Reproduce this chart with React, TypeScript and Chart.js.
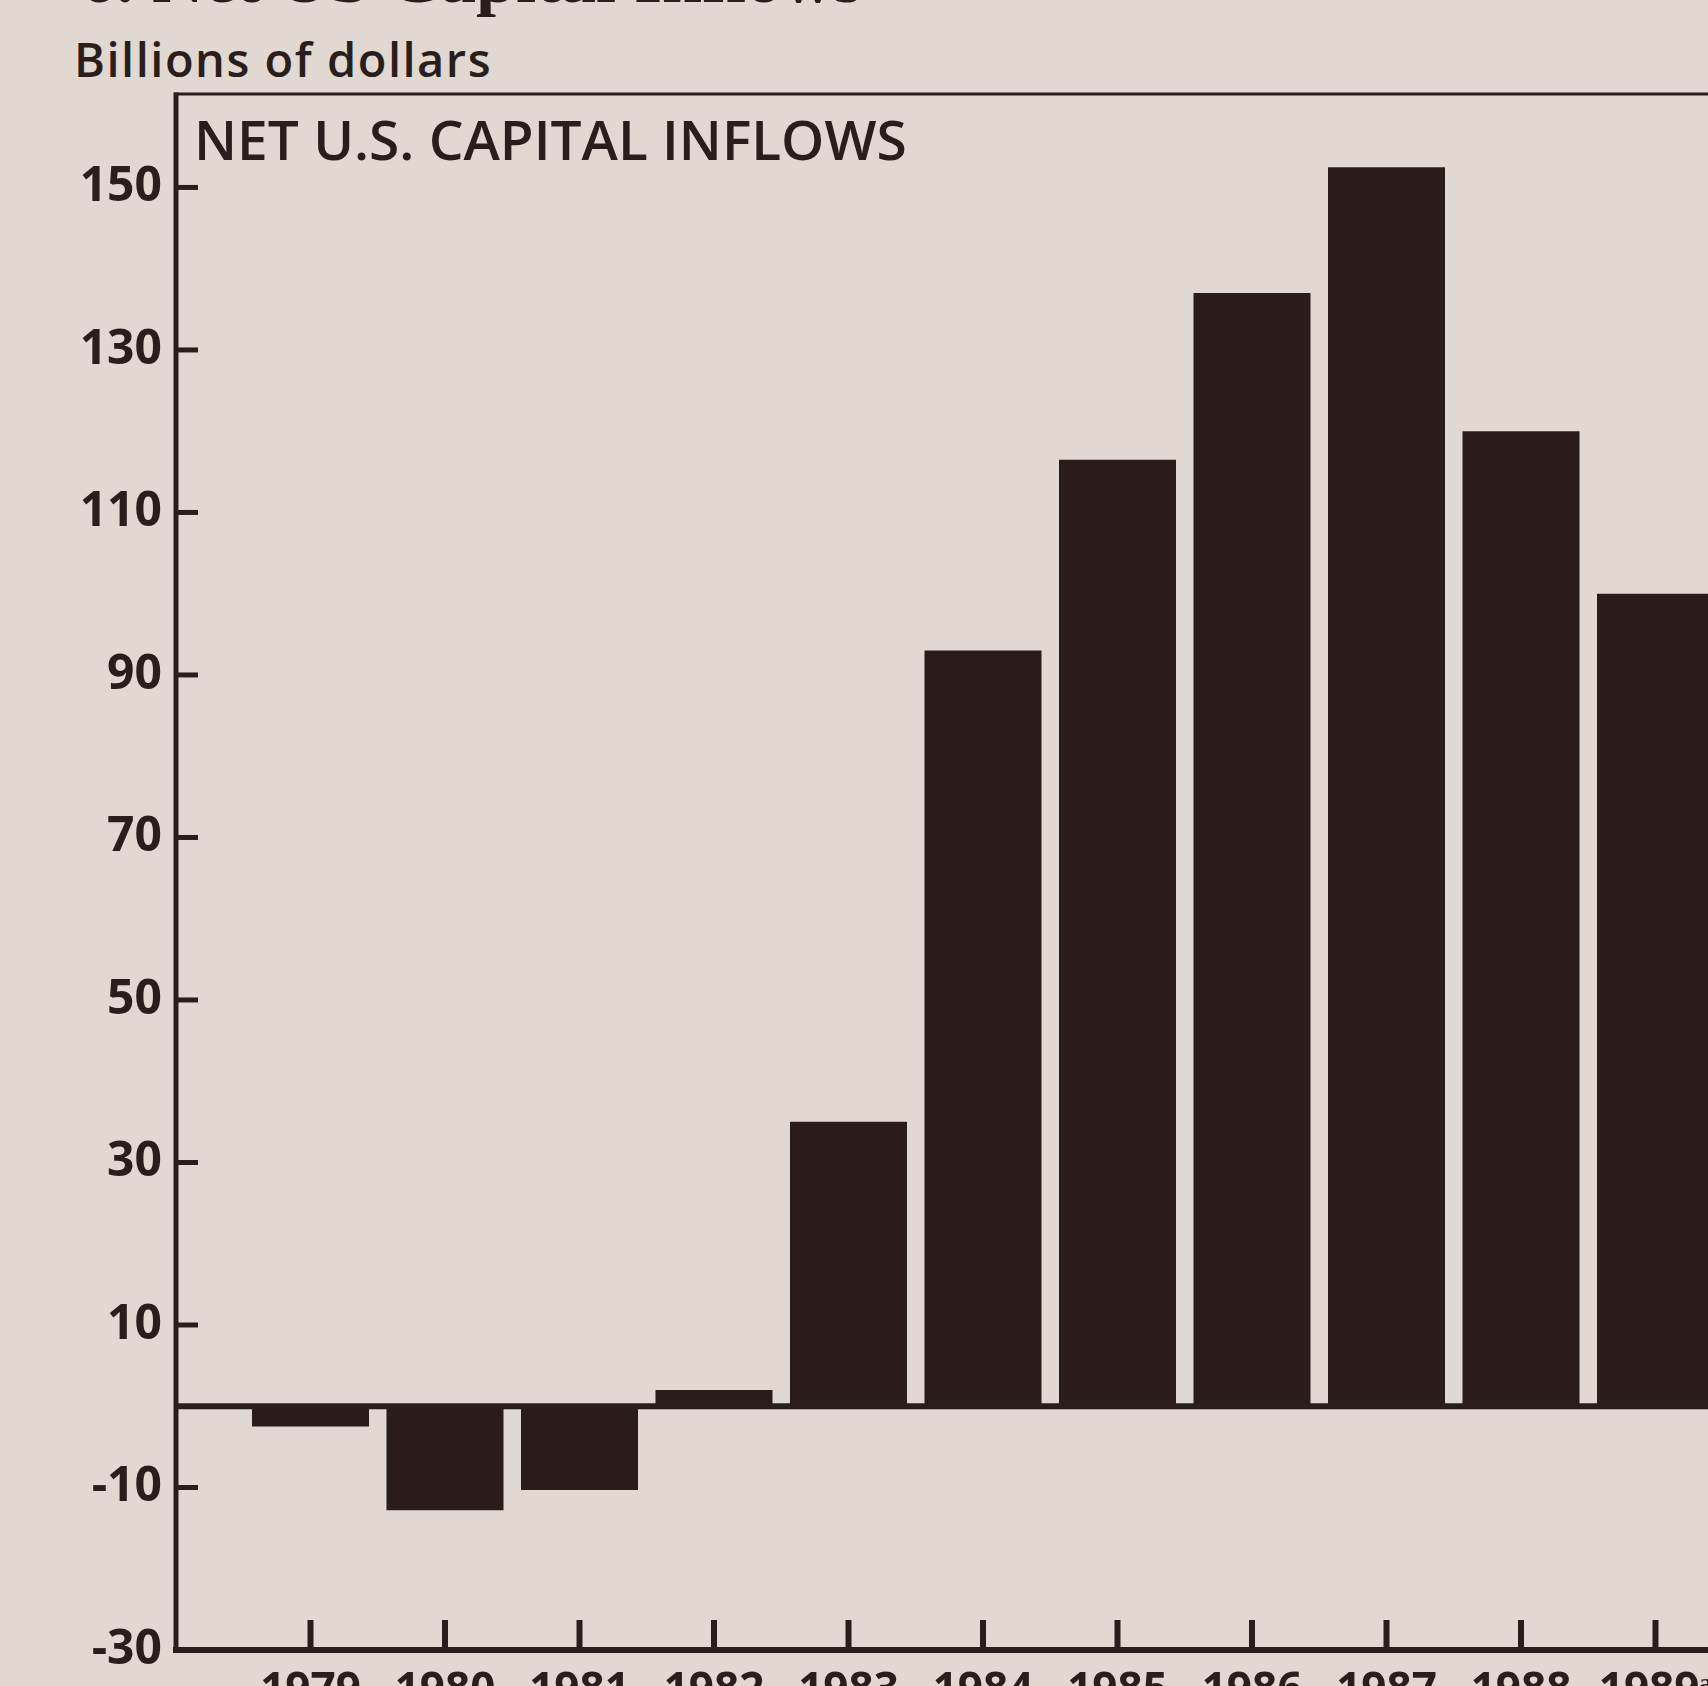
import React, { useEffect, useRef } from 'react';
import { Chart, registerables } from 'chart.js';

Chart.register(...registerables);

// ---- data ----
const years = ['1979', '1980', '1981', '1982', '1983', '1984', '1985', '1986', '1987', '1988', '1989ᵃ'];
const netInflows = [-2.5, -12.8, -10.3, 2, 35, 93, 116.5, 137, 152.5, 120, 100];
const yTicks = [-30, -10, 10, 30, 50, 70, 90, 110, 130, 150];
const yMin = -30;
const yMax = 161.5;

const PAPER = '#e1d8d2';
const INK = '#2a1e1d';
const BAR = '#2b1c1a';

const CANVAS_W = 1900;
const CANVAS_H = 1760;

const axesPlugin = {
  id: 'printedAxes',
  afterDatasetsDraw(chart: any) {
    const { ctx, chartArea, scales } = chart;
    const y = scales.y;
    const x = scales.x;
    const { left, right, top, bottom } = chartArea;
    ctx.save();
    ctx.strokeStyle = INK;
    ctx.lineCap = 'butt';

    // top border
    ctx.lineWidth = 3;
    ctx.beginPath();
    ctx.moveTo(left - 2, top);
    ctx.lineTo(right + 200, top);
    ctx.stroke();

    // zero line
    const y0 = y.getPixelForValue(0);
    ctx.lineWidth = 6;
    ctx.beginPath();
    ctx.moveTo(left, y0);
    ctx.lineTo(right + 200, y0);
    ctx.stroke();

    // bottom axis
    ctx.lineWidth = 6;
    ctx.beginPath();
    ctx.moveTo(left - 3, bottom);
    ctx.lineTo(right + 200, bottom);
    ctx.stroke();

    // left axis
    ctx.lineWidth = 5;
    ctx.beginPath();
    ctx.moveTo(left, top - 1.5);
    ctx.lineTo(left, bottom + 3);
    ctx.stroke();

    // y tick marks (inward)
    ctx.lineWidth = 5;
    yTicks.forEach((v) => {
      const py = y.getPixelForValue(v);
      ctx.beginPath();
      ctx.moveTo(left, py);
      ctx.lineTo(left + 22, py);
      ctx.stroke();
    });

    // x tick marks (inward)
    ctx.lineWidth = 6;
    years.forEach((_, i) => {
      const px = x.getPixelForValue(i + 1);
      ctx.beginPath();
      ctx.moveTo(px, bottom);
      ctx.lineTo(px, bottom - 30);
      ctx.stroke();
    });
    ctx.restore();
  },
};

export default function App() {
  const canvasRef = useRef<HTMLCanvasElement | null>(null);

  useEffect(() => {
    document.body.style.margin = '0';
    document.body.style.background = PAPER;
    document.body.style.overflow = 'hidden';
    const canvas = canvasRef.current;
    if (!canvas) return;
    const labels = ['', ...years, ''];
    const data = [null, ...netInflows, null];
    const chart = new Chart(canvas, {
      type: 'bar',
      data: {
        labels,
        datasets: [
          {
            data: data as any,
            backgroundColor: BAR,
            borderWidth: 0,
            barPercentage: 0.87,
            categoryPercentage: 1,
          },
        ],
      },
      options: {
        animation: false,
        responsive: false,
        devicePixelRatio: 1,
        layout: { padding: { left: 0, top: 94, right: CANVAS_W - 1790, bottom: 0 } },
        plugins: { legend: { display: false }, tooltip: { enabled: false }, title: { display: false } },
        scales: {
          x: {
            type: 'category',
            offset: false,
            grid: { display: false, drawTicks: false, offset: false },
            border: { display: false },
            ticks: {
              autoSkip: false,
              maxRotation: 0,
              minRotation: 0,
              padding: 15,
              color: INK,
              font: { family: 'Open Sans', size: 44, weight: 'bold' },
            },
            afterFit: (scale: any) => {
              scale.height = CANVAS_H - 1650;
            },
          },
          y: {
            type: 'linear',
            min: yMin,
            max: yMax,
            grid: { display: false, drawTicks: false },
            border: { display: false },
            ticks: {
              padding: 14,
              color: INK,
              font: { family: 'Open Sans', size: 48, weight: 'bold' },
              callback: (v: any) => String(v),
            },
            afterBuildTicks: (scale: any) => {
              scale.ticks = yTicks.map((v) => ({ value: v }));
            },
            afterFit: (scale: any) => {
              scale.width = 176;
            },
          },
        },
      },
      plugins: [axesPlugin],
    });
    return () => chart.destroy();
  }, []);

  return (
    <div
      style={{
        position: 'relative',
        width: 1708,
        height: 1686,
        overflow: 'hidden',
        background: PAPER,
        color: INK,
        fontFamily: 'Open Sans, sans-serif',
      }}
    >
      <div
        style={{
          position: 'absolute',
          left: 80,
          top: -58,
          fontFamily: 'Liberation Serif, serif',
          fontWeight: 'bold',
          fontSize: 72,
          lineHeight: 1,
          whiteSpace: 'nowrap',
        }}
      >
        6. Net US Capital Inflows
      </div>
      <div
        style={{
          position: 'absolute',
          left: 74,
          top: 36,
          fontSize: 47,
          fontWeight: 600,
          letterSpacing: 1.5,
          lineHeight: 1,
          whiteSpace: 'nowrap',
        }}
      >
        Billions of dollars
      </div>
      <canvas
        ref={canvasRef}
        width={CANVAS_W}
        height={CANVAS_H}
        style={{ position: 'absolute', left: 0, top: 0, width: CANVAS_W, height: CANVAS_H }}
      />
      <div
        style={{
          position: 'absolute',
          left: 194,
          top: 111,
          fontSize: 55,
          fontWeight: 600,
          lineHeight: 1,
          whiteSpace: 'nowrap',
        }}
      >
        NET U.S. CAPITAL INFLOWS
      </div>
    </div>
  );
}
